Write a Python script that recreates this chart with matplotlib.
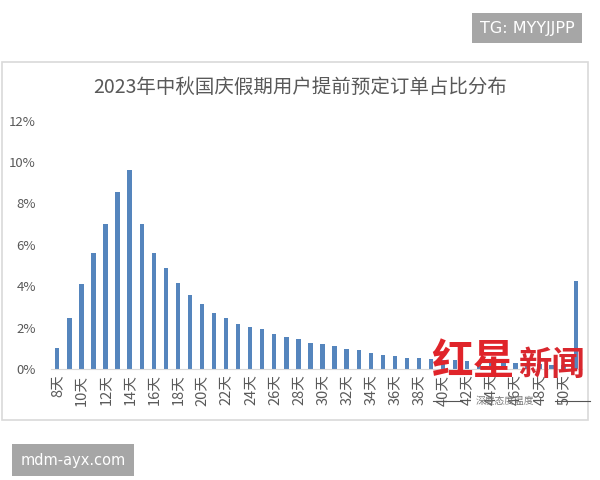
import numpy as np
import matplotlib
matplotlib.use("Agg")
import matplotlib.pyplot as plt
from matplotlib.patches import Rectangle
from matplotlib.ticker import FuncFormatter

plt.rcParams['font.family'] = ['Noto Sans CJK SC', 'DejaVu Sans']

# share of advance bookings by days booked ahead (%)
days = [f"{d}天" for d in range(8, 51)] + ["50天以上"]
shares = [1.0, 2.45, 4.1, 5.6, 7.0, 8.55, 9.6, 7.0, 5.6, 4.86,
          4.15, 3.6, 3.12, 2.71, 2.46, 2.17, 2.05, 1.92, 1.68, 1.57,
          1.45, 1.27, 1.21, 1.10, 0.97, 0.90, 0.79, 0.68, 0.61, 0.55,
          0.55, 0.47, 0.45, 0.42, 0.38, 0.33, 0.30, 0.28, 0.28, 0.25,
          0.22, 0.20, 0.20, 4.27]
y_ticks = [0, 2, 4, 6, 8, 10, 12]
title = "2023年中秋国庆假期用户提前预定订单占比分布"

W, H = 600, 480


def fx(px):
    return px / W


def fy(py):
    return 1 - py / H


fig = plt.figure(figsize=(6, 4.8), dpi=100)

# chart frame
fig.patches.append(Rectangle((fx(2), fy(420)), fx(586), 358 / H, transform=fig.transFigure,
                             fill=False, edgecolor="#d9d9d9", linewidth=1.2))

ax = fig.add_axes([fx(51.3), fy(369), fx(530.4), (369 - 120.7) / H])
x = np.arange(len(days))
ax.bar(x, shares, width=0.36, color="#5585bd", zorder=2)

ax.set_xlim(-0.5, len(days) - 0.5)
ax.set_ylim(0, 12)
ax.set_yticks(y_ticks)
ax.yaxis.set_major_formatter(FuncFormatter(lambda v, p: f"{v:.0f}%"))
ax.set_xticks(x[::2])
ax.set_xticklabels(days[::2], rotation=90)
ax.tick_params(axis="both", length=0, colors="#595959")
ax.tick_params(axis="y", pad=11, labelsize=9.5)
ax.tick_params(axis="x", pad=4, labelsize=10.5)
for side in ["top", "right", "left"]:
    ax.spines[side].set_visible(False)
ax.spines["bottom"].set_color("#d9d9d9")

fig.text(0.5, fy(87), title, ha="center", va="center", fontsize=14, color="#595959")

# watermark
fig.text(fx(473), fy(362), "红星", ha="center", va="center", fontsize=30,
         color="#e0242a", fontweight="bold", style="italic")
fig.text(fx(552), fy(365), "新闻", ha="center", va="center", fontsize=24,
         color="#d9272e", fontweight="bold")
fig.text(fx(505), fy(401), "深度态度温度", ha="center", va="center", fontsize=7,
         color="#777777")
fig.add_artist(plt.Line2D([fx(433), fx(462)], [fy(401), fy(401)], color="#555555", lw=0.8))
fig.add_artist(plt.Line2D([fx(555), fx(590)], [fy(401), fy(401)], color="#555555", lw=0.8))

# badges
fig.text(fx(527), fy(28), "TG: MYYJJPP", ha="center", va="center", fontsize=11.5,
         color="white", family="DejaVu Sans",
         bbox=dict(boxstyle="square,pad=0.5", facecolor="#a6a6a6", edgecolor="none"))
fig.text(fx(73), fy(460), "mdm-ayx.com", ha="center", va="center", fontsize=10.5,
         color="white", family="DejaVu Sans",
         bbox=dict(boxstyle="square,pad=0.6", facecolor="#a6a6a6", edgecolor="none"))

fig.savefig("out.png", dpi=100)
